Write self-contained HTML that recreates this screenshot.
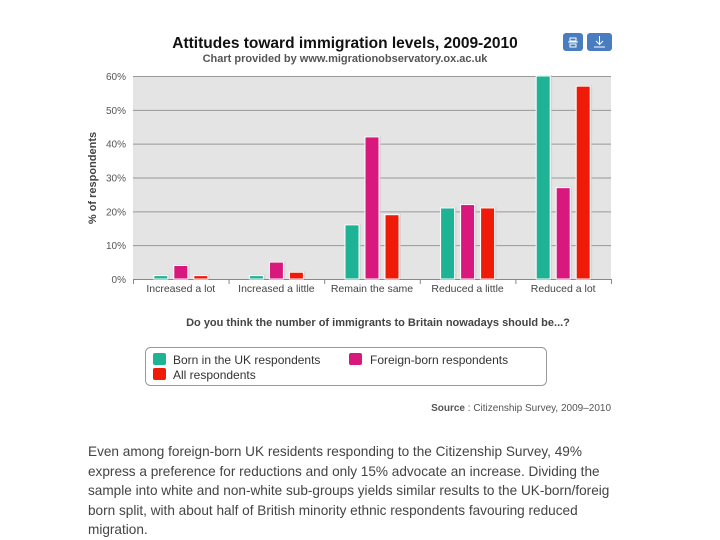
<!DOCTYPE html>
<html><head><meta charset="utf-8"><style>
body{margin:0;width:720px;height:540px;background:#fff;font-family:"Liberation Sans",sans-serif;position:relative;overflow:hidden}
.p{position:absolute;left:88px;top:442px;width:540px;font-size:13.6px;line-height:19.6px;color:#444}
</style></head><body>
<svg id="c" width="720" height="430" style="position:absolute;left:0;top:0">
<text x="345" y="48" text-anchor="middle" font-size="15.5" font-weight="bold" fill="#111">Attitudes toward immigration levels, 2009-2010</text>
<text x="345" y="62" text-anchor="middle" font-size="11" font-weight="bold" fill="#555">Chart provided by www.migrationobservatory.ox.ac.uk</text>
<rect x="563" y="33" width="20" height="18" rx="3" fill="#4a7cc0"/>
<rect x="587" y="33" width="25" height="18" rx="3" fill="#4a7cc0"/>
<path d="M568 42h10M570 38h6v3h-6zM570 44h6v3h-6z" stroke="#fff" fill="none"/>
<path d="M599.5 36v8M596 41l3.5 3.5 3.5-3.5M594 47h11" stroke="#fff" fill="none"/>
<rect x="133" y="76" width="478" height="203" fill="#e4e4e4"/>
<g id="grid"></g><g id="bars"></g><g id="xl"></g>
<text transform="translate(96,178) rotate(-90)" text-anchor="middle" font-size="11" font-weight="bold" fill="#444">% of respondents</text>
<text x="378" y="326" text-anchor="middle" font-size="11" font-weight="bold" fill="#444">Do you think the number of immigrants to Britain nowadays should be...?</text>
<rect x="145.5" y="347.5" width="401" height="38" rx="5" fill="#fff" stroke="#999"/>
<g><rect x="153" y="353" width="13" height="12" rx="2" fill="#1eb395"/><text x="173" y="364" font-size="12" fill="#333">Born in the UK respondents</text></g>
<g><rect x="349" y="353" width="13" height="12" rx="2" fill="#d9187e"/><text x="370" y="364" font-size="12" fill="#333">Foreign-born respondents</text></g>
<g><rect x="153" y="368" width="13" height="12" rx="2" fill="#f01a08"/><text x="173" y="379" font-size="12" fill="#333">All respondents</text></g>
<text x="611" y="411" text-anchor="end" font-size="10" fill="#555"><tspan font-weight="bold">Source</tspan> : Citizenship Survey, 2009–2010</text>
</svg>
<div class="p">Even among foreign-born UK residents responding to the Citizenship Survey, 49% express a preference for reductions and only 15% advocate an increase. Dividing the sample into white and non-white sub-groups yields similar results to the UK-born/foreig born split, with about half of British minority ethnic respondents favouring reduced migration.</div>
<script>
const categories=["Increased a lot","Increased a little","Remain the same","Reduced a little","Reduced a lot"];
const ukBorn=[1,1,16,21,60];
const foreignBorn=[4,5,42,22,27];
const allResp=[1,2,19,21,57];
const yTicks=[0,10,20,30,40,50,60];
const NS="http://www.w3.org/2000/svg";
const L=133,R=611,T=76,B=279,MAX=60;
const y=v=>B-(v/MAX)*(B-T);
const gw=(R-L)/categories.length;
const xc=i=>L+gw*(i+0.5);
function mk(t,a,p){const e=document.createElementNS(NS,t);for(const k in a)e.setAttribute(k,a[k]);p.appendChild(e);return e;}
const grid=document.getElementById('grid');
yTicks.forEach(t=>{
 const l=mk('line',{x1:L,x2:R,y1:y(t)+.5,y2:y(t)+.5,stroke:t===0?'#888':'#999'},grid);
 
 
 const tx=mk('text',{x:126,y:y(t)+4,'text-anchor':'end','font-size':10,fill:'#555'},grid);
 tx.textContent=t+'%';
 
 
});
const series=[[ukBorn,'#1eb395','uk'],[foreignBorn,'#d9187e','foreign'],[allResp,'#f01a08','all']];
const bars=document.getElementById('bars');
categories.forEach((c,i)=>{
 series.forEach((s,j)=>{
  const x=xc(i)+(j-1)*20-7,v=s[0][i];
  mk('rect',{x:x+2,y:y(v)-1,width:14,height:B-y(v)+1,fill:'#ccc',opacity:.6},bars);
  const r=mk('rect',{x:x,y:y(v),width:14,height:B-y(v),fill:s[1],stroke:'#fff','stroke-width':1},bars);
  
  
 });
 const tk=mk('line',{x1:L+gw*i+.5,x2:L+gw*i+.5,y1:B,y2:B+5,stroke:'#888'},bars);
 const tx=mk('text',{x:xc(i),y:B+13,'text-anchor':'middle','font-size':10.5,fill:'#444'},document.getElementById('xl'));
 tx.textContent=c;
 
 
});
mk('line',{x1:R+.5,x2:R+.5,y1:B,y2:B+5,stroke:'#888'},bars);
</script>
</body></html>
